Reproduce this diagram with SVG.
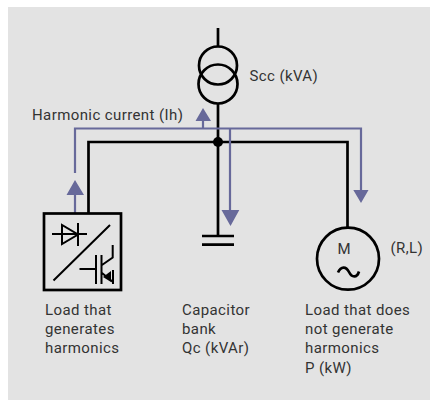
<svg xmlns="http://www.w3.org/2000/svg" width="430" height="400" viewBox="0 0 430 400">
<style>
.w{fill:none;stroke:#000;stroke-width:2.700}
.s{fill:none;stroke:#000;stroke-width:2}
.h{fill:none;stroke:#67699a;stroke-width:2.200}
.a{fill:#67699a}
text{font-family:Roboto,"Liberation Sans",sans-serif;font-size:15px;fill:#333;letter-spacing:.4px}
</style>
<rect width="430" height="400" fill="#fff"/>
<rect x="8" y="7" width="422" height="393" fill="#e3e3e3"/>
<g id="connectors">
<path class="w" d="M218 28V47M218 103V236M88.500 213V142H347.500V227"/>
<path class="h" d="M75 173V128.500H361V192M203 128.500V120"/>
<path class="h" stroke-width="2.800" d="M230 128.500V212M75 194V213"/>
<path class="a" d="M203 108L211 121H195.500ZM75 180L84 195H66.500ZM361 203L353.300 190H368.500ZM230.500 226L221.500 210H239.300Z"/>
</g>
<g id="junction"><circle cx="218" cy="142" r="5"/></g>
<g id="transformer">
<circle class="w" cx="218" cy="65.500" r="19"/><circle class="w" cx="218" cy="84" r="19.500"/>
<text x="249.500" y="81">Scc (kVA)</text>
</g>
<g id="harmonic-label"><text x="32" y="120">Harmonic current (Ih)</text></g>
<g id="load-generating">
<rect class="w" x="44" y="213.500" width="77" height="76.500"/>
<path class="s" d="M52 234H87M62 225V244L78 234.500ZM78 223V246M110 225L53.500 280.500M79.500 269H96M96 255V284M101.500 255V284M102 265L112.700 257.500V245M102 273L113 282M113 270V284"/>
<path d="M103 277L111 282V271Z"/>
<text x="45" y="315">Load that</text><text x="45" y="334">generates</text><text x="45" y="353">harmonics</text>
</g>
<g id="capacitor">
<path class="w" d="M202 236H234M202 244.700H234"/>
<text x="182" y="315">Capacitor</text><text x="182" y="334">bank</text><text x="182" y="353">Qc (kVAr)</text>
</g>
<g id="motor">
<circle class="w" cx="348" cy="258.700" r="31"/>
<path class="w" d="M338 272.500C341 266 346 266 349 272C352 278 357 278 359 271.500"/>
<text x="337.500" y="254">M</text>
<text x="390.500" y="253">(R,L)</text>
<text x="305" y="315">Load that does</text><text x="305" y="334">not generate</text><text x="305" y="353">harmonics</text><text x="305" y="372.500">P (kW)</text>
</g>
</svg>
